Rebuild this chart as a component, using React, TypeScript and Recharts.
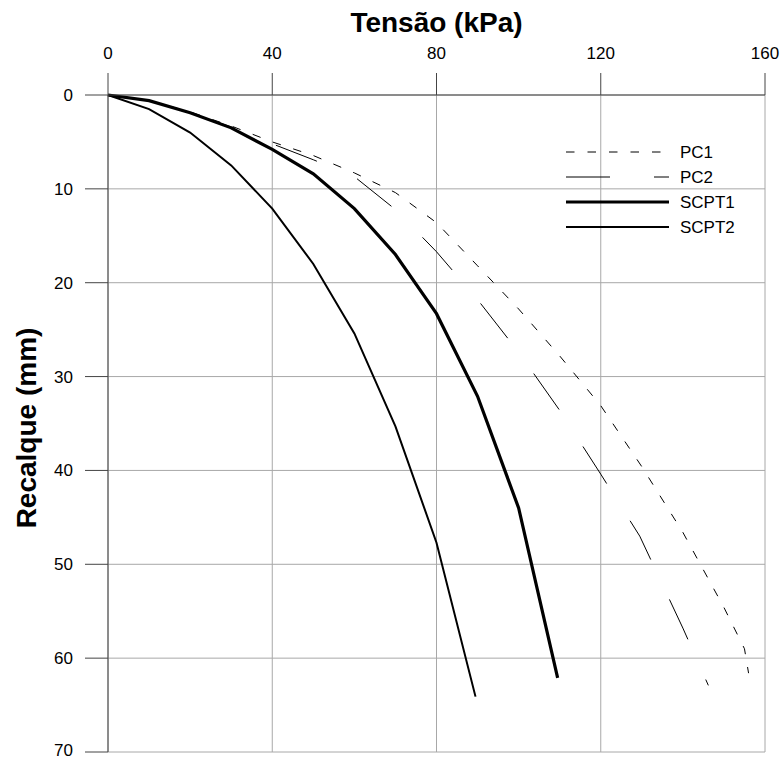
import { LineChart, Line, XAxis, YAxis, CartesianGrid, Legend, Label } from "recharts";

// Tensão (kPa) x Recalque (mm) for each load test
const pc1Tensao = [0, 10, 20, 30, 40, 50, 60, 70, 80, 90, 100, 110, 120, 130, 140, 150, 155, 156];
const pc1Recalque = [0, 0.6, 1.8, 3.3, 5.0, 6.45, 8.3, 10.4, 13.6, 18.2, 22.8, 27.8, 33.1, 39.6, 46.6, 54.6, 59.0, 61.6];

const pc2Tensao = [0, 10, 20, 30, 40, 50, 60, 70, 80, 90, 100, 110, 120, 129.5, 140, 146.2];
const pc2Recalque = [0, 0.6, 1.9, 3.4, 5.2, 6.9, 8.7, 12.2, 16.7, 21.8, 27.4, 33.6, 40.4, 47.0, 56.8, 62.9];

const scpt1Tensao = [0, 10, 20, 30, 40, 50, 60, 70, 80, 90, 100, 109.5];
const scpt1Recalque = [0, 0.6, 1.9, 3.5, 5.8, 8.4, 12.1, 17.0, 23.3, 32.1, 44.0, 62.1];

const scpt2Tensao = [0, 10, 20, 30, 40, 50, 60, 70, 80, 89.5];
const scpt2Recalque = [0, 1.5, 4.0, 7.5, 12.1, 18.0, 25.4, 35.3, 47.7, 64.1];

const xTicks = [0, 40, 80, 120, 160];
const yTicks = [0, 10, 20, 30, 40, 50, 60, 70];

const FONT = '"Liberation Sans", Arial, Helvetica, sans-serif';

const toPoints = (xs: number[], ys: number[]) => xs.map((x, i) => ({ x, y: ys[i] }));

const series = [
  { name: "PC1", data: toPoints(pc1Tensao, pc1Recalque), width: 1, dash: "8.5 13" },
  { name: "PC2", data: toPoints(pc2Tensao, pc2Recalque), width: 1, dash: "44 44" },
  { name: "SCPT1", data: toPoints(scpt1Tensao, scpt1Recalque), width: 3.2, dash: undefined },
  { name: "SCPT2", data: toPoints(scpt2Tensao, scpt2Recalque), width: 2, dash: undefined },
];

const LegendBox = () => (
  <svg width={220} height={100}>
    {series.map((s, i) => (
      <g key={s.name}>
        <line
          x1={6}
          x2={109}
          y1={12 + i * 25}
          y2={12 + i * 25}
          stroke="#000"
          strokeWidth={s.width}
          strokeDasharray={s.dash}
        />
        <text x={120} y={12 + i * 25} dy="0.36em" fontSize={17} fontFamily={FONT} fill="#000">
          {s.name}
        </text>
      </g>
    ))}
  </svg>
);

const YTitle = () => (
  <text
    x={36}
    y={428}
    transform="rotate(-90, 36, 428)"
    textAnchor="middle"
    fontSize={28}
    fontWeight="bold"
    fontFamily={FONT}
    fill="#000"
  >
    Recalque (mm)
  </text>
);

export default function App() {
  return (
    <div style={{ position: "absolute", left: 0, top: 0, background: "#fff" }}>
      <LineChart width={783} height={760} margin={{ top: 55, right: 18, bottom: 8, left: 48 }}>
        <CartesianGrid stroke="#a8a8a8" strokeWidth={1} horizontalValues={yTicks} verticalValues={xTicks} />
        <XAxis
          dataKey="x"
          type="number"
          orientation="top"
          domain={[0, 160]}
          ticks={xTicks}
          height={40}
          tickSize={22}
          tickMargin={14}
          axisLine={{ stroke: "#444" }}
          tickLine={{ stroke: "#444" }}
          tick={{ fill: "#000", fontSize: 17, fontFamily: FONT }}
        >
          <Label
            value="Tensão (kPa)"
            position="top"
            offset={23}
            fontSize={28}
            fontWeight="bold"
            fontFamily={FONT}
            fill="#000"
          />
        </XAxis>
        <YAxis
          dataKey="y"
          type="number"
          reversed
          domain={[0, 70]}
          ticks={yTicks}
          width={60}
          tickSize={23}
          tickMargin={12}
          axisLine={{ stroke: "#444" }}
          tickLine={{ stroke: "#444" }}
          tick={{ fill: "#000", fontSize: 17, fontFamily: FONT }}
        >
          <Label content={<YTitle />} />
        </YAxis>
        {series.map((s) => (
          <Line
            key={s.name}
            data={s.data}
            dataKey="y"
            name={s.name}
            type="linear"
            stroke="#000"
            strokeWidth={s.width}
            strokeDasharray={s.dash}
            dot={false}
            activeDot={false}
            isAnimationActive={false}
          />
        ))}
        <Legend
          layout="vertical"
          align="center"
          verticalAlign="middle"
          content={<LegendBox />}
          wrapperStyle={{ left: 560, top: 140, width: 220, height: 100 }}
        />
      </LineChart>
    </div>
  );
}
